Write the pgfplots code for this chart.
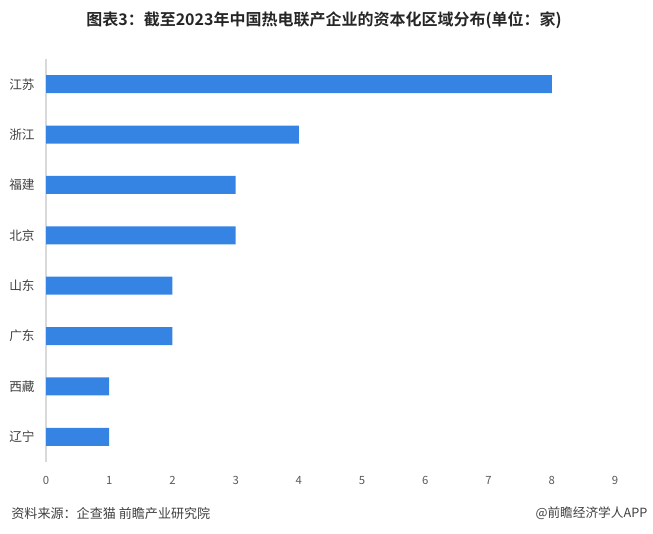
\documentclass[border=0pt]{standalone}
\usepackage{pgfplots}
\pgfplotsset{compat=1.18}
\usepackage{fontspec}
\setmainfont{Noto Sans CJK SC}
\newfontfamily\titlefont{Noto Sans CJK SC Bold}
\definecolor{barblue}{RGB}{53,132,228}
\definecolor{axgray}{RGB}{217,217,217}
\definecolor{lblgray}{RGB}{64,64,64}
\definecolor{tickgray}{RGB}{89,89,89}
\begin{document}
\begin{tikzpicture}
\path[use as bounding box] (0,0) rectangle (489.75pt,-400.5pt);
\begin{axis}[
  at={(34.5pt,-346.5pt)}, anchor=south west,
  scale only axis, width=426.75pt, height=302.25pt,
  xbar, bar width=13.5pt,
  xmin=0, xmax=9, ymin=-0.5, ymax=7.5, y dir=reverse,
  xtick={0,...,9}, ytick={0,...,7},
  yticklabels={江苏,浙江,福建,北京,山东,广东,西藏,辽宁},
  axis lines*=left,
  x axis line style={draw=none},
  y axis line style={draw=axgray, line width=0.8pt},
  major tick length=0pt,
  xticklabel style={font=\fontsize{8.5}{10}\selectfont, text=tickgray, yshift=-7pt},
  yticklabel style={font=\fontsize{9.5}{11}\selectfont, text=lblgray, xshift=-5pt},
  /pgf/number format/assume math mode=true,
  clip=false,
]
\addplot[draw=none, fill=barblue] coordinates {(8,0) (4,1) (3,2) (3,3) (2,4) (2,5) (1,6) (1,7)};
\end{axis}
\node[font=\titlefont\fontsize{12}{14}\selectfont, text=black!85] at (243pt,-15pt) {图表3：截至2023年中国热电联产企业的资本化区域分布(单位：家)};
\node[anchor=west, font=\fontsize{9.8}{11}\selectfont, text=lblgray] at (5pt,-385pt) {资料来源：企查猫 前瞻产业研究院};
\node[anchor=east, font=\fontsize{9.5}{11}\selectfont, text=lblgray] at (489pt,-385pt) {@前瞻经济学人APP};
\end{tikzpicture}
\end{document}
